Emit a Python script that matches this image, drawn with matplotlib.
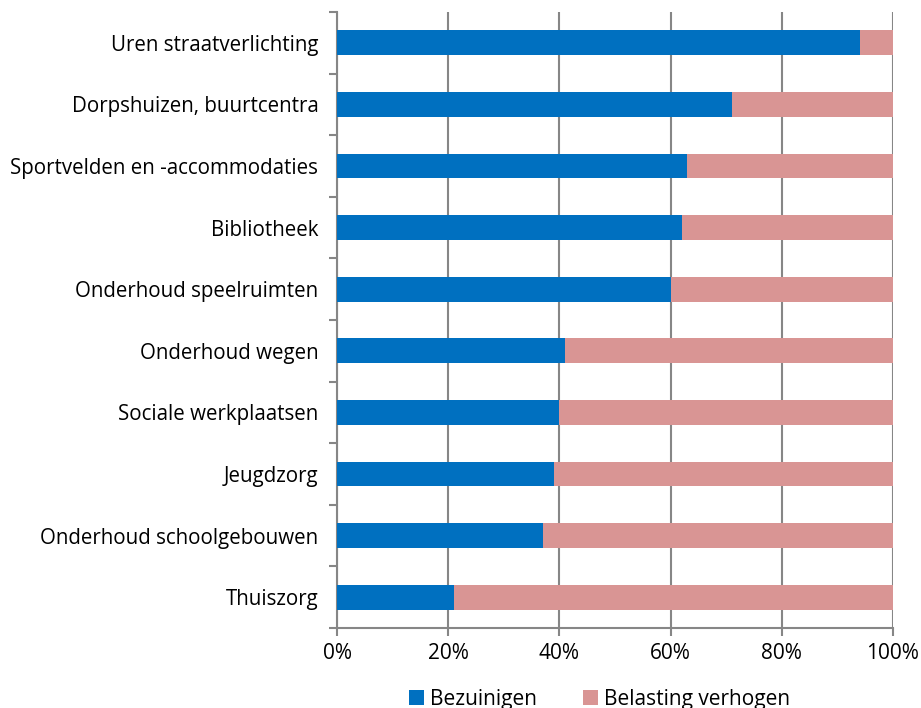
import matplotlib
matplotlib.use("Agg")
import matplotlib.pyplot as plt
import numpy as np
from matplotlib.ticker import FixedLocator, PercentFormatter

categories = [
    "Uren straatverlichting",
    "Dorpshuizen, buurtcentra",
    "Sportvelden en -accommodaties",
    "Bibliotheek",
    "Onderhoud speelruimten",
    "Onderhoud wegen",
    "Sociale werkplaatsen",
    "Jeugdzorg",
    "Onderhoud schoolgebouwen",
    "Thuiszorg",
]
bezuinigen = [94, 71, 63, 62, 60, 41, 40, 39, 37, 21]
belasting = [6, 29, 37, 38, 40, 59, 60, 61, 63, 79]
xticks = [0, 20, 40, 60, 80, 100]

blue = "#0070C0"
pink = "#D99594"
grey = "#868686"

plt.rcParams['font.family'] = ['Open Sans', 'DejaVu Sans']

fig = plt.figure(figsize=(9.21, 7.08), dpi=100)
ax = fig.add_axes([337/921, 1-628/708, (893-337)/921, (628-12)/708])

n = len(categories)
y = np.arange(n)
ax.barh(y, bezuinigen, height=0.4, color=blue, label="Bezuinigen", zorder=3)
ax.barh(y, belasting, left=bezuinigen, height=0.4, color=pink, label="Belasting verhogen", zorder=3)

ax.set_ylim(n - 0.5, -0.5)
ax.set_xlim(0, 100)
ax.set_yticks(y)
ax.set_yticklabels(categories, fontsize=14.8)
ax.yaxis.set_minor_locator(FixedLocator(np.arange(-0.5, n, 1)))
ax.tick_params(axis='y', which='major', length=0, pad=13.5)
ax.tick_params(axis='y', which='minor', length=6, color=grey, width=1.5)

ax.set_xticks(xticks)
ax.xaxis.set_major_formatter(PercentFormatter(decimals=0))
ax.tick_params(axis='x', length=6, color=grey, width=1.5, labelsize=15, pad=5)

ax.grid(axis='x', color=grey, linewidth=1.5, zorder=0)
ax.set_axisbelow(True)
for s in ['top', 'right']:
    ax.spines[s].set_visible(False)
for s in ['left', 'bottom']:
    ax.spines[s].set_color(grey)
    ax.spines[s].set_linewidth(1.5)

leg = fig.legend(loc='center', bbox_to_anchor=(0.651, 1-699/708), ncol=2, frameon=False,
                 fontsize=15, handlelength=0.7, handleheight=0.7, handletextpad=0.3,
                 columnspacing=2.2, borderpad=0)

fig.savefig("out.png", dpi=100)
